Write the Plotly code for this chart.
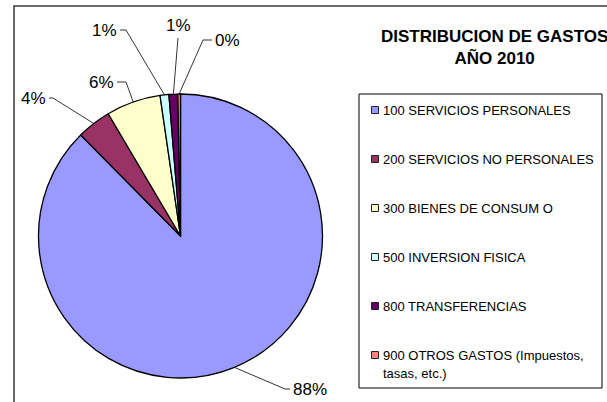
import math
import plotly.graph_objects as go

# ---- data ----
categories = ["100 SERVICIOS PERSONALES", "200 SERVICIOS NO PERSONALES",
              "300 BIENES DE CONSUM O", "500 INVERSION FISICA",
              "800 TRANSFERENCIAS", "900 OTROS GASTOS (Impuestos, tasas, etc.)"]
legend_lines = [["100 SERVICIOS PERSONALES"], ["200 SERVICIOS NO PERSONALES"],
                ["300 BIENES DE CONSUM O"], ["500 INVERSION FISICA"],
                ["800 TRANSFERENCIAS"], ["900 OTROS GASTOS (Impuestos,", "tasas, etc.)"]]
values = [87.6, 3.9, 6.2, 1.0, 1.0, 0.3]
colors = ["#9999FF", "#993366", "#FFFFCC", "#CCFFFF", "#660066", "#FF8080"]
title_text = "DISTRIBUCION DE GASTOS<br>AÑO 2010"

# ---- layout (pixel space of 607x402 canvas) ----
W, H = 607, 402
CX, CY, R = 180.5, 236.0, 142.0
FONT = "Liberation Sans, Arial, sans-serif"
# leader elbow point, label end x, text anchor side
label_layout = [
    ((285, 389), 290, "left"),
    ((53, 98), 49, "right"),
    ((126, 82), 117, "right"),
    ((126, 30), 120, "right"),
    ((178, 38), None, "top"),
    ((203, 40), 212, "left"),
]

fig = go.Figure()
fig.add_trace(go.Pie(
    labels=categories, values=values, sort=False, direction="clockwise",
    rotation=0, marker=dict(colors=colors, line=dict(color="black", width=1.3)),
    textinfo="none", hoverinfo="label+percent", showlegend=False,
    domain=dict(x=[(CX - R) / W, (CX + R) / W],
                y=[(H - CY - R) / H, (H - CY + R) / H]),
))

shapes = []
annotations = []
total = sum(values)
cum = 0.0
for i, v in enumerate(values):
    mid = (cum + v / 2) / total * 2 * math.pi
    cum += v
    ax = CX + R * math.sin(mid)
    ay = CY - R * math.cos(mid)
    (ex, ey), lx, side = label_layout[i]
    pct = f"{round(v / total * 100):.0f}%"
    if side == "top":
        path = f"M{ax},{ay} L{ex},{ey}"
        annotations.append(dict(x=ex, y=ey - 1, text=pct, xanchor="center", yanchor="bottom",
                                showarrow=False, xref="x", yref="y",
                                font=dict(family=FONT, size=17, color="black")))
    else:
        path = f"M{ax},{ay} L{ex},{ey} L{lx},{ey}"
        tx = lx + 1 if side == "left" else lx - 1
        annotations.append(dict(x=tx, y=ey, text=pct, xanchor=side, yanchor="middle",
                                showarrow=False, xref="x", yref="y",
                                font=dict(family=FONT, size=17, color="black")))
    shapes.append(dict(type="path", path=path, xref="x", yref="y",
                       line=dict(color="black", width=0.8)))

# outer frame (cut at right/bottom)
shapes.append(dict(type="rect", x0=14, y0=6, x1=W + 5, y1=H + 5, xref="x", yref="y",
                   line=dict(color="#3a3a3a", width=1.5)))
# legend box
shapes.append(dict(type="rect", x0=359, y0=94, x1=602, y1=388, xref="x", yref="y",
                   line=dict(color="black", width=1)))

row0, step = 110, 49
for i, lines in enumerate(legend_lines):
    yy = row0 + step * i
    shapes.append(dict(type="rect", x0=371.5, y0=yy - 3.5, x1=378.5, y1=yy + 3.5, xref="x", yref="y",
                       fillcolor=colors[i], line=dict(color="#222222", width=1)))
    for j, t in enumerate(lines):
        annotations.append(dict(x=381, y=yy + 18 * j, text=t, xanchor="left", yanchor="middle",
                                showarrow=False, xref="x", yref="y",
                                font=dict(family=FONT, size=13, color="black")))

annotations.append(dict(x=494, y=47.5, text="<b>" + title_text + "</b>", xanchor="center",
                        yanchor="middle", showarrow=False, xref="x", yref="y",
                        font=dict(family=FONT, size=17, color="black")))

fig.update_layout(
    width=W, height=H, margin=dict(l=0, r=0, t=0, b=0),
    paper_bgcolor="white", plot_bgcolor="rgba(0,0,0,0)",
    xaxis=dict(range=[0, W], visible=False, fixedrange=True),
    yaxis=dict(range=[H, 0], visible=False, fixedrange=True),
    shapes=shapes, annotations=annotations, showlegend=False,
)
fig.write_html("out.html", config={"displayModeBar": False},
               post_script="document.body.style.margin='0';document.body.style.overflow='hidden';")
